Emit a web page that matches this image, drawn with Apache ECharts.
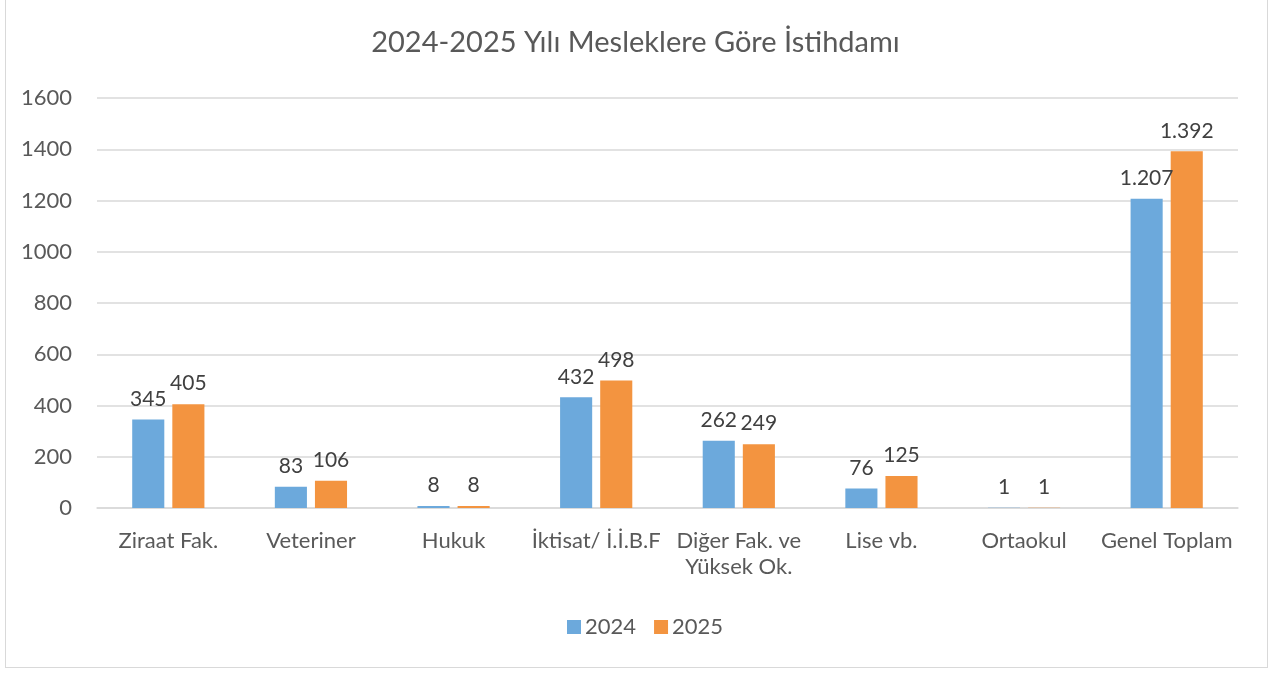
<!DOCTYPE html>
<html><head><meta charset="utf-8">
<script src="https://cdn.jsdelivr.net/npm/echarts@6/dist/echarts.min.js"></script>
<style>
html,body{margin:0;padding:0;background:#fff;}
#frame{position:absolute;left:5px;top:-2px;width:1263px;height:670px;border:1.5px solid #d9d9d9;box-sizing:border-box;}
#c{position:absolute;left:0;top:0;width:1271px;height:674px;}
</style></head>
<body>
<div id="frame"></div>
<div id="c"></div>
<script>
const categories = ["Ziraat Fak.", "Veteriner", "Hukuk", "İktisat/ İ.İ.B.F", "Diğer Fak. ve Yüksek Ok.", "Lise vb.", "Ortaokul", "Genel Toplam"];
const values2024 = [345, 83, 8, 432, 262, 76, 1, 1207];
const values2025 = [405, 106, 8, 498, 249, 125, 1, 1392];
const seriesNames = ["2024", "2025"];
const yTicks = [0, 200, 400, 600, 800, 1000, 1200, 1400, 1600];

const FONT = "Lato, 'Open Sans', sans-serif";
const TXT = "#595959";
function fmt(v){ return String(v).replace(/\B(?=(\d{3})+(?!\d))/g, "."); }

const chart = echarts.init(document.getElementById('c'), null, {renderer:'canvas'});
chart.setOption({
  animation:false,
  textStyle:{fontFamily:FONT},
  title:{text:"2024-2025 Yılı Mesleklere Göre İstihdamı", left:'center', top:23,
    textStyle:{fontFamily:FONT, fontSize:29, fontWeight:'normal', color:TXT}},
  legend:{bottom:31, left:562, itemWidth:14, itemHeight:14, itemGap:18, icon:'rect',
    textStyle:{fontFamily:FONT, fontSize:22, color:TXT, padding:[0,0,0,-1]}},
  grid:{left:97, right:33, top:98, bottom:166, containLabel:false},
  xAxis:{type:'category', data:categories,
    axisLine:{lineStyle:{color:'#d9d9d9', width:1.5}},
    axisTick:{show:false},
    axisLabel:{fontFamily:FONT, fontSize:22, color:TXT, margin:20, interval:0, lineHeight:26,
      formatter:v=>v.replace(' ve ', ' ve\n')}},
  yAxis:{type:'value', min:yTicks[0], max:yTicks[yTicks.length-1], interval:200,
    axisLine:{show:false}, axisTick:{show:false},
    splitLine:{lineStyle:{color:'#d9d9d9', width:1.5}},
    axisLabel:{fontFamily:FONT, fontSize:22, color:TXT, margin:25, formatter:v=>String(v)}},
  series:[
    {name:seriesNames[0], type:'bar', data:values2024, barWidth:'22.5%', barGap:'25%',
     itemStyle:{color:'#6CA9DC'},
     label:{show:true, position:'top', distance:10, fontFamily:FONT, fontSize:21, color:'#404040', formatter:p=>fmt(p.value)}},
    {name:seriesNames[1], type:'bar', data:values2025, barWidth:'22.5%', barGap:'25%',
     itemStyle:{color:'#F39440'},
     label:{show:true, position:'top', distance:10, fontFamily:FONT, fontSize:21, color:'#404040', formatter:p=>fmt(p.value)}}
  ]
});
</script>
</body></html>
